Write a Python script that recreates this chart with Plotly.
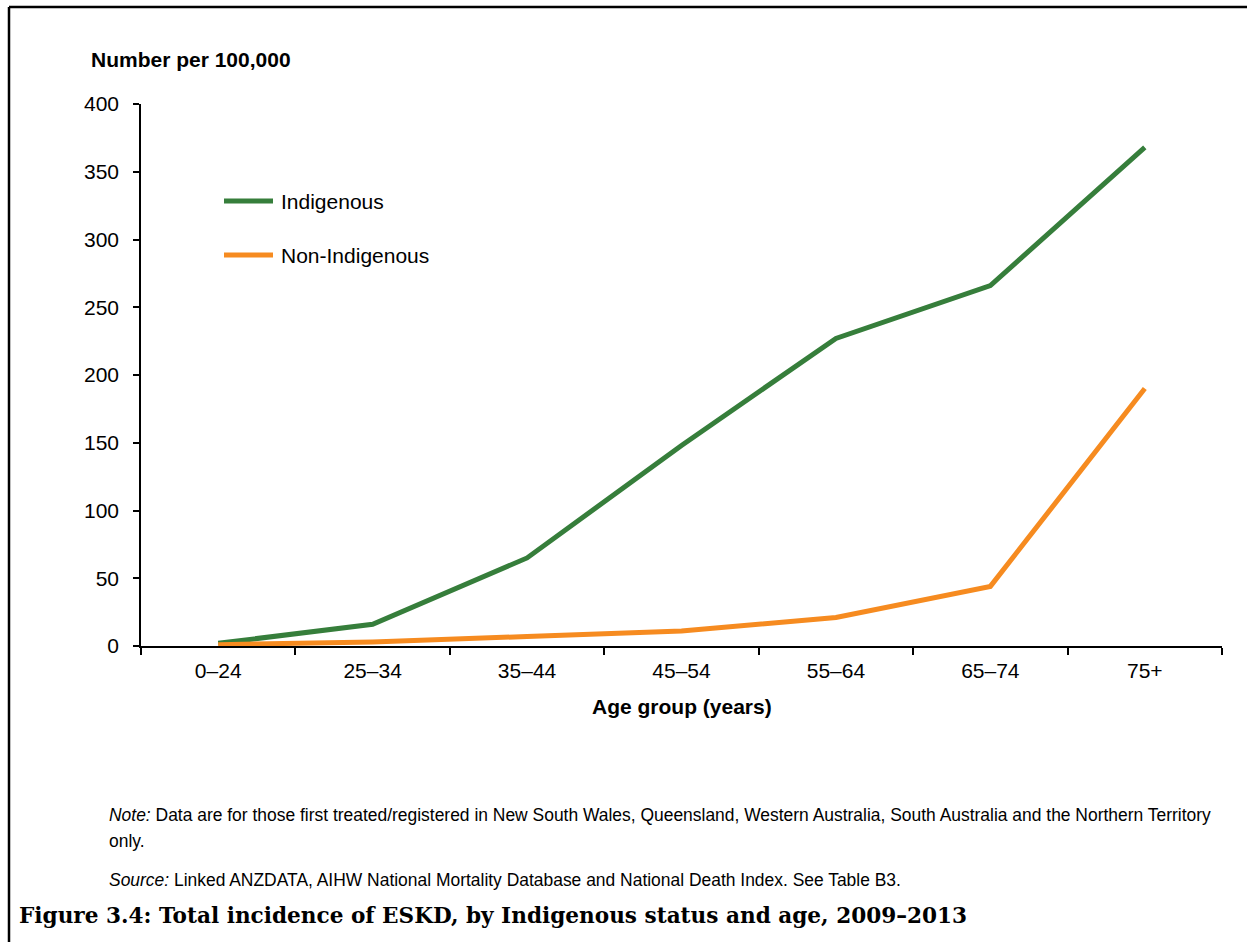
import plotly.graph_objects as go

age_groups = ["0–24", "25–34", "35–44", "45–54", "55–64", "65–74", "75+"]
indigenous = [2, 16, 65, 148, 227, 266, 368]
non_indigenous = [1, 3, 7, 11, 21, 44, 190]
y_ticks = [0, 50, 100, 150, 200, 250, 300, 350, 400]

GREEN = "#367E3B"
ORANGE = "#F68B20"
FONT = "Liberation Sans, Arial, sans-serif"

W, H = 1247, 942
L, R, T, B = 141, 1222, 104, 646


def px(x):
    return (x - L) / (R - L)


def py(y):
    return (B - y) / (B - T)


fig = go.Figure()
fig.add_trace(go.Scatter(x=age_groups, y=indigenous, mode="lines", name="Indigenous",
                         line=dict(color=GREEN, width=5), showlegend=False))
fig.add_trace(go.Scatter(x=age_groups, y=non_indigenous, mode="lines", name="Non-Indigenous",
                         line=dict(color=ORANGE, width=5), showlegend=False))

fig.update_layout(
    width=W, height=H,
    margin=dict(l=L, r=W - R, t=T, b=H - B, pad=0),
    paper_bgcolor="white", plot_bgcolor="white",
    font=dict(family=FONT, size=21, color="black"),
    xaxis=dict(type="category", range=[-0.5, 6.5], tickson="boundaries",
               showline=True, linecolor="black", linewidth=1.5,
               ticks="outside", ticklen=7, tickcolor="black", tickwidth=1.5,
               showgrid=False, zeroline=False, ticklabelstandoff=5,
               tickfont=dict(size=21)),
    yaxis=dict(range=[0, 400], tickvals=y_ticks,
               showline=True, linecolor="black", linewidth=1.5,
               ticks="outside", ticklen=6, tickcolor="black", tickwidth=1.5,
               showgrid=False, zeroline=False, ticklabelstandoff=10,
               tickfont=dict(size=21)),
)

# Frame (top and left edges)
fig.add_shape(type="line", xref="paper", yref="paper", x0=px(9), x1=px(W + 5), y0=py(7), y1=py(7),
              line=dict(color="black", width=2.5))
fig.add_shape(type="line", xref="paper", yref="paper", x0=px(9), x1=px(9), y0=py(7), y1=py(H + 5),
              line=dict(color="black", width=2.5))

# Legend
legend_items = [("Indigenous", GREEN, 201), ("Non-Indigenous", ORANGE, 255)]
for label, col, ypix in legend_items:
    fig.add_shape(type="line", xref="paper", yref="paper", x0=px(224), x1=px(273), y0=py(ypix), y1=py(ypix),
                  line=dict(color=col, width=5))
    fig.add_annotation(xref="paper", yref="paper", x=px(279), y=py(ypix), text=label, showarrow=False,
                       xanchor="left", yanchor="middle", font=dict(size=21))

# Axis titles
fig.add_annotation(xref="paper", yref="paper", x=px(89), y=py(60), text="<b>Number per 100,000</b>",
                   showarrow=False, xanchor="left", yanchor="middle", font=dict(size=21))
fig.add_annotation(xref="paper", yref="paper", x=0.5, y=py(706), text="<b>Age group (years)</b>",
                   showarrow=False, xanchor="center", yanchor="middle", font=dict(size=21))

# Notes
NOTE_SIZE = 17.45
fig.add_annotation(xref="paper", yref="paper", x=px(107), y=py(815),
                   text="<i>Note:</i> Data are for those first treated/registered in New South Wales, Queensland, Western Australia, South Australia and the Northern Territory",
                   showarrow=False, xanchor="left", yanchor="middle", font=dict(size=NOTE_SIZE))
fig.add_annotation(xref="paper", yref="paper", x=px(107), y=py(841), text="only.",
                   showarrow=False, xanchor="left", yanchor="middle", font=dict(size=NOTE_SIZE))
fig.add_annotation(xref="paper", yref="paper", x=px(107), y=py(880),
                   text="<i>Source:</i> Linked ANZDATA, AIHW National Mortality Database and National Death Index. See Table B3.",
                   showarrow=False, xanchor="left", yanchor="middle", font=dict(size=NOTE_SIZE))
fig.add_annotation(xref="paper", yref="paper", x=px(17), y=py(915),
                   text="<b>Figure 3.4: Total incidence of ESKD, by Indigenous status and age, 2009–2013</b>",
                   showarrow=False, xanchor="left", yanchor="middle",
                   font=dict(size=21.6, family="DejaVu Serif, Liberation Serif, serif"))

fig.write_html("out.html", config={"displayModeBar": False},
               post_script="document.body.style.margin='0';document.body.style.overflow='hidden';")
